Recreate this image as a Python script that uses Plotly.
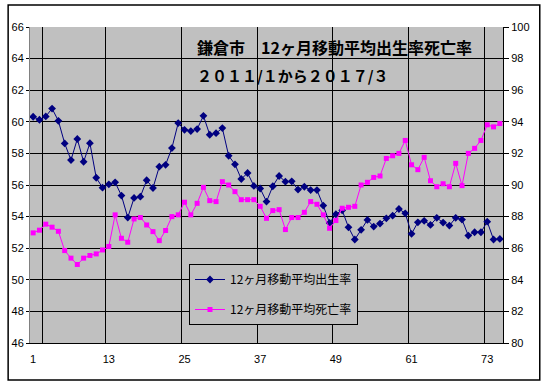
import plotly.graph_objects as go

months = list(range(1, 76))
birth_rate = [60.32, 60.13, 60.34, 60.84, 60.06, 58.63, 57.58, 58.91, 57.47, 58.65,
              56.46, 55.83, 56.04, 56.17, 55.33, 53.94, 55.18, 55.26, 56.30, 55.81,
              57.16, 57.28, 58.34, 59.92, 59.49, 59.41, 59.54, 60.38, 59.18, 59.28,
              59.60, 57.85, 57.31, 56.38, 56.76, 55.94, 55.78, 54.95, 55.92, 56.57,
              56.21, 56.23, 55.71, 55.89, 55.68, 55.68, 54.70, 53.60, 54.15, 54.40,
              53.32, 52.55, 53.16, 53.79, 53.37, 53.56, 53.89, 54.06, 54.48, 54.21,
              52.91, 53.64, 53.73, 53.47, 53.92, 53.62, 53.43, 53.92, 53.81, 52.80,
              53.01, 53.01, 53.68, 52.55, 52.59]
death_rate = [86.97, 87.14, 87.52, 87.33, 87.07, 85.85, 85.37, 84.97, 85.37, 85.54,
              85.64, 85.89, 86.11, 88.11, 86.63, 86.38, 87.85, 87.94, 87.47, 87.05,
              86.48, 87.12, 88.00, 88.11, 88.91, 88.11, 88.84, 89.85, 89.01, 88.95,
              90.21, 90.00, 89.58, 89.07, 89.07, 89.07, 88.65, 87.89, 88.38, 88.44,
              87.18, 87.94, 87.94, 88.27, 88.95, 88.78, 88.11, 87.26, 87.75, 88.53,
              88.59, 88.65, 90.00, 90.17, 90.48, 90.57, 91.68, 91.85, 92.00, 92.82,
              91.28, 90.97, 91.75, 90.27, 89.89, 90.08, 89.89, 91.37, 89.96, 92.00,
              92.32, 92.82, 93.81, 93.68, 93.89]
x_tick_labels = [1, 13, 25, 37, 49, 61, 73]
x_grid_positions = [2.5, 12.5, 24.5, 36.5, 48.5, 60.5, 72.5]
left_ticks = list(range(46, 67, 2))
right_ticks = list(range(80, 101, 2))

birth_name = "12ヶ月移動平均出生率"
death_name = "12ヶ月移動平均死亡率"
title_line1 = "鎌倉市　12ヶ月移動平均出生率死亡率"
title_line2 = "２０１１/１から２０１７/３"

W, H = 545, 385
L, R, T, B = 27, 42, 27, 42
PW, PH = W - L - R, H - T - B

def px_x(px):
    return (px - L) / PW

def px_y(py):
    return (H - B - py) / PH

fig = go.Figure()
fig.add_trace(go.Scatter(
    x=months, y=birth_rate, name=birth_name, mode="lines+markers",
    line=dict(color="#000080", width=1),
    marker=dict(symbol="diamond", size=6, color="#000080"),
    legendgroup="a", yaxis="y"))
fig.add_trace(go.Scatter(
    x=months, y=death_rate, name=death_name, mode="lines+markers",
    line=dict(color="#FF00FF", width=1),
    marker=dict(symbol="square", size=5, color="#FF00FF"),
    legendgroup="b", yaxis="y2"))

tick_font = dict(family="Liberation Sans, Arial, sans-serif", size=11, color="black")

fig.update_layout(
    width=W, height=H,
    margin=dict(l=L, r=R, t=T, b=B, pad=0),
    paper_bgcolor="white",
    plot_bgcolor="#C0C0C0",
    showlegend=True,
    legend=dict(
        x=px_x(187), y=px_y(264), xanchor="left", yanchor="top",
        bgcolor="#C0C0C0", bordercolor="black", borderwidth=1,
        font=dict(family="Noto Sans CJK JP", size=12, color="black"),
        traceorder="grouped", tracegroupgap=11,
        itemwidth=30,
    ),
    xaxis=dict(
        range=[0.5, 75.5], tickmode="array", tickvals=x_tick_labels,
        ticktext=[str(v) for v in x_tick_labels],
        showgrid=False, zeroline=False,
        showline=True, linecolor="black", linewidth=1,
        ticks="outside", ticklen=6, tickcolor="rgba(0,0,0,0)",
        tickfont=tick_font,
        minor=dict(tickmode="array", tickvals=x_grid_positions,
                   showgrid=True, gridcolor="black", gridwidth=1, ticks=""),
    ),
    yaxis=dict(
        range=[46, 66], tickmode="array", tickvals=left_ticks,
        showgrid=True, gridcolor="black", gridwidth=1, zeroline=False,
        showline=True, linecolor="#808080", linewidth=1,
        ticks="outside", ticklen=3, tickcolor="black",
        tickfont=tick_font,
    ),
    yaxis2=dict(
        range=[80, 100], tickmode="array", tickvals=right_ticks,
        overlaying="y", side="right", showgrid=False, zeroline=False,
        showline=True, linecolor="black", linewidth=1,
        ticks="outside", ticklen=5, tickcolor="black",
        tickfont=tick_font,
    ),
    annotations=[
        dict(text="<b>" + title_line1 + "</b>", xref="paper", yref="paper",
             x=px_x(193), y=px_y(47), xanchor="left", yanchor="middle",
             showarrow=False,
             font=dict(family="Noto Sans CJK JP", size=16, color="black")),
        dict(text="<b>" + title_line2 + "</b>", xref="paper", yref="paper",
             x=px_x(193), y=px_y(75), xanchor="left", yanchor="middle",
             showarrow=False,
             font=dict(family="Noto Sans CJK JP", size=15, color="black")),
    ],
    shapes=[
        dict(type="rect", xref="paper", yref="paper",
             x0=px_x(5), x1=px_x(540), y0=px_y(380), y1=px_y(5),
             line=dict(color="black", width=1.5), fillcolor="rgba(0,0,0,0)",
             layer="below"),
    ],
)

fig.write_html("out.html", config={"displayModeBar": False},
               post_script="document.body.style.margin='0px';")
